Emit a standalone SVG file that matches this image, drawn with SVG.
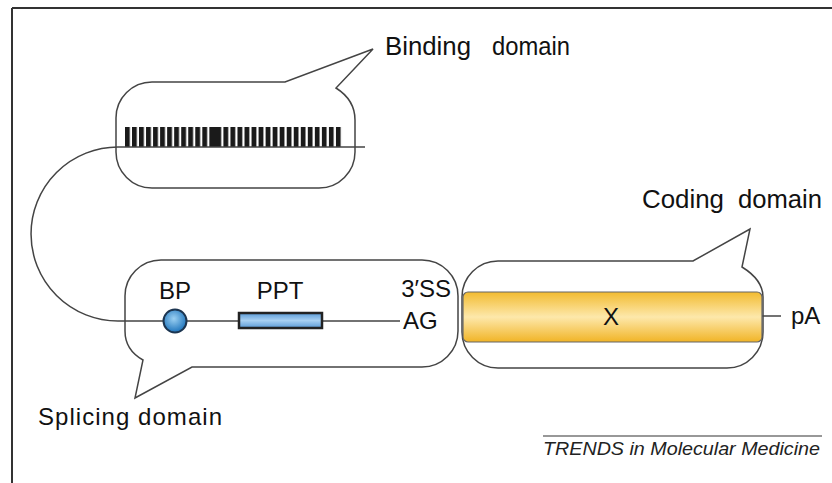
<svg xmlns="http://www.w3.org/2000/svg" width="832" height="483" viewBox="0 0 832 483">
<style>
.lbl{font-family:"Liberation Sans",Arial,sans-serif;font-size:24px;fill:#111}
.big{font-size:25px}
.bub{fill:#fff;stroke:#444;stroke-width:1.5}
.ln{fill:none;stroke:#444;stroke-width:1.5}
</style>
<defs>
<pattern id="bars" patternUnits="userSpaceOnUse" x="125" y="127" width="7.03" height="20">
<rect x="0" y="0" width="4.8" height="20" fill="#1a1a1a"/>
</pattern>
<radialGradient id="bpg" cx="0.45" cy="0.4" r="0.6">
<stop offset="0" stop-color="#9bd0f2"/>
<stop offset="1" stop-color="#1e74bc"/>
</radialGradient>
<linearGradient id="pptg" x1="0" y1="0" x2="0" y2="1">
<stop offset="0" stop-color="#5a9ad6"/>
<stop offset="0.5" stop-color="#a8d0f2"/>
<stop offset="1" stop-color="#5a9ad6"/>
</linearGradient>
<linearGradient id="xg" x1="0" y1="0" x2="0" y2="1">
<stop offset="0" stop-color="#f2bb30"/>
<stop offset="0.5" stop-color="#fde8ab"/>
<stop offset="1" stop-color="#f1b426"/>
</linearGradient>
</defs>
<rect width="832" height="483" fill="#fff"/>
<g id="frame">
<line x1="12" y1="8" x2="832" y2="8" stroke="#333" stroke-width="2"/>
<line x1="12" y1="8" x2="12" y2="483" stroke="#333" stroke-width="2"/>
</g>
<g id="binding-domain">
<path class="bub" d="M152,82 L285,82 L373,49 L336,88 Q355,100 355,120 L355,152 A36,36 0 0 1 319,188 L152,188 A36,36 0 0 1 116,152 L116,118 A36,36 0 0 1 152,82 Z"/>
<rect x="125" y="127" width="218" height="20" fill="url(#bars)"/>
<rect x="212" y="127" width="8" height="20" fill="#1a1a1a"/>
<text class="lbl big" y="55"><tspan x="385" textLength="86" lengthAdjust="spacingAndGlyphs">Binding</tspan> <tspan x="492" textLength="78" lengthAdjust="spacingAndGlyphs">domain</tspan></text>
</g>
<g id="splicing-domain">
<path class="bub" d="M161,260 L422,260 A36,36 0 0 1 458,296 L458,331 A36,36 0 0 1 422,367 L192,367 L135,398 L143,360 Q125,350 125,331 L125,296 A36,36 0 0 1 161,260 Z"/>
<text class="lbl" x="38" y="425" textLength="184" lengthAdjust="spacing">Splicing domain</text>
</g>
<g id="coding-domain">
<path class="bub" d="M498,261 L693,261 L750,229 L742,267 Q763,280 763,297 L763,332 A36,36 0 0 1 727,368 L498,368 A36,36 0 0 1 462,332 L462,297 A36,36 0 0 1 498,261 Z"/>
<text class="lbl big" y="208"><tspan x="642" textLength="82" lengthAdjust="spacingAndGlyphs">Coding</tspan> <tspan x="738" textLength="84" lengthAdjust="spacingAndGlyphs">domain</tspan></text>
</g>
<g id="connectors">
<path class="ln" d="M365,147 L118,147 A87,87 0 0 0 118,321 L400,321"/>
<line class="ln" x1="762" y1="316" x2="781" y2="316"/>
</g>
<g id="bp">
<circle cx="175" cy="321" r="11.5" fill="url(#bpg)" stroke="#1c3550" stroke-width="2"/>
<text class="lbl" x="175" y="299" text-anchor="middle">BP</text>
</g>
<g id="ppt">
<rect x="239" y="313" width="83" height="15" fill="url(#pptg)" stroke="#222" stroke-width="2.5"/>
<text class="lbl" x="280" y="299" text-anchor="middle">PPT</text>
</g>
<g id="ss3">
<text class="lbl" x="451" y="297" text-anchor="end">3′SS</text>
<text class="lbl" x="403" y="329">AG</text>
</g>
<g id="x-exon">
<rect x="463" y="292" width="299" height="50" rx="5" fill="url(#xg)" stroke="#666" stroke-width="1.2"/>
<text class="lbl" x="611" y="325" text-anchor="middle">X</text>
</g>
<g id="pa">
<text class="lbl" x="791" y="324">pA</text>
</g>
<g id="footer">
<line x1="543" y1="436" x2="822" y2="436" stroke="#333" stroke-width="1.2"/>
<text x="543" y="455" font-family="Liberation Sans,Arial,sans-serif" font-size="17.5" font-style="italic" fill="#222" textLength="277" lengthAdjust="spacingAndGlyphs">TRENDS in Molecular Medicine</text>
</g>
</svg>
